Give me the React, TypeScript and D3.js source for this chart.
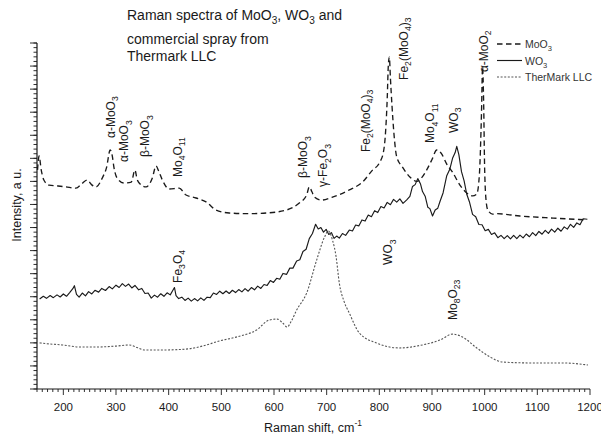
import React from "react";
import * as d3 from "d3";

type P = [number, number];

// ---- data (Raman shift cm-1, intensity a.u.) ----
const moo3Data: P[] = [
  [151, 9.5], [154, 10.1], [158, 9.5], [163, 9.06], [173, 8.84], [190, 8.8], [205, 8.76], [224, 8.71],
  [235, 8.9], [245, 9.06], [254, 8.85], [262, 8.76], [274, 9.15], [282, 9.6], [289, 10.36], [293, 10.1],
  [296, 9.62], [302, 9.15], [315, 8.93], [329, 8.97], [336, 9.49], [340, 9.1], [344, 8.93], [357, 8.76],
  [369, 9.15], [376, 9.67], [381, 9.45], [388, 9.06], [401, 8.67], [420, 8.71], [433, 8.41], [452, 8.28],
  [471, 8.11], [490, 7.76], [515, 7.63], [553, 7.6], [586, 7.63], [624, 7.76], [648, 8.06], [662, 8.41],
  [667, 8.76], [672, 8.55], [677, 8.32], [690, 8.19], [711, 8.32], [743, 8.63], [768, 8.97], [787, 9.49],
  [800, 9.8], [808, 10.3], [812, 11.2], [815, 12.6], [817, 14.0], [819, 14.39], [821, 13.5], [824, 12.3],
  [828, 11.0], [833, 10.06], [844, 9.62], [858, 9.19], [871, 9.0], [880, 9.15], [890, 9.5], [900, 9.95],
  [909, 10.36], [918, 10.2], [928, 9.75], [939, 9.4], [953, 8.84], [966, 8.5], [977, 8.37], [985, 8.45],
  [990, 9.3], [994, 12.0], [996, 13.96], [998, 12.5], [1000, 9.5], [1003, 8.1], [1006, 7.76], [1015, 7.58],
  [1023, 7.6], [1067, 7.5], [1130, 7.41], [1194, 7.33],
];

const wo3Data: P[] = [
  [155, 3.9], [162, 4.02], [168, 3.93], [175, 4.05], [181, 3.96], [188, 4.08], [194, 3.99], [200, 4.12],
  [206, 4.02], [212, 4.18], [218, 4.35], [221, 4.48], [225, 4.1], [230, 3.98], [236, 4.16], [242, 4.04],
  [248, 4.22], [254, 4.12], [260, 4.28], [267, 4.2], [273, 4.36], [280, 4.27], [287, 4.44], [293, 4.34],
  [300, 4.5], [306, 4.4], [312, 4.57], [318, 4.45], [324, 4.55], [330, 4.38], [336, 4.49], [343, 4.3],
  [349, 4.36], [355, 4.14], [361, 4.16], [367, 3.94], [373, 4.07], [379, 3.98], [385, 4.13], [391, 4.02],
  [397, 4.17], [403, 4.08], [408, 4.28], [411, 4.4], [414, 4.05], [419, 3.92], [425, 3.98], [431, 3.84],
  [437, 3.94], [443, 3.81], [449, 3.92], [455, 3.82], [461, 3.95], [467, 3.84], [473, 3.98], [479, 3.96],
  [485, 4.16], [491, 4.1], [497, 4.24], [503, 4.13], [509, 4.25], [515, 4.14], [521, 4.28], [527, 4.18],
  [533, 4.31], [539, 4.21], [545, 4.35], [551, 4.24], [557, 4.4], [563, 4.3], [569, 4.46], [575, 4.36],
  [581, 4.53], [587, 4.49], [593, 4.7], [599, 4.62], [605, 4.8], [611, 4.76], [617, 5.01], [624, 4.97],
  [630, 5.24], [636, 5.24], [643, 5.55], [649, 5.6], [655, 5.96], [661, 6.06], [667, 6.52], [673, 6.74],
  [679, 7.14], [684, 6.94], [689, 7.0], [694, 6.8], [699, 6.92], [704, 6.7], [709, 6.78], [714, 6.53],
  [719, 6.63], [724, 6.54], [730, 6.74], [736, 6.66], [743, 6.89], [749, 6.85], [755, 7.11], [761, 7.07],
  [767, 7.33], [773, 7.28], [779, 7.54], [785, 7.47], [791, 7.73], [797, 7.65], [803, 7.91], [809, 7.85],
  [815, 8.09], [821, 7.99], [827, 8.22], [833, 8.1], [839, 8.24], [845, 8.05], [852, 8.2], [858, 8.35],
  [863, 8.78], [868, 8.86], [873, 9.12], [878, 8.9], [882, 8.56], [887, 8.36], [892, 7.88], [896, 7.82],
  [901, 7.5], [906, 7.76], [911, 7.84], [915, 8.12], [921, 8.5], [928, 9.25], [934, 9.54], [939, 10.0],
  [944, 10.25], [947, 10.52], [951, 10.16], [956, 9.42], [961, 9.02], [966, 8.44], [971, 8.12], [977, 7.57],
  [983, 7.47], [989, 7.13], [995, 7.12], [1001, 6.86], [1007, 6.92], [1013, 6.7], [1019, 6.77], [1025, 6.56],
  [1031, 6.66], [1037, 6.52], [1043, 6.65], [1049, 6.51], [1055, 6.66], [1061, 6.52], [1067, 6.67], [1073, 6.55],
  [1079, 6.72], [1085, 6.6], [1091, 6.78], [1097, 6.65], [1103, 6.83], [1109, 6.71], [1115, 6.88], [1121, 6.75],
  [1127, 6.93], [1133, 6.8], [1139, 6.97], [1145, 6.84], [1151, 7.03], [1157, 6.93], [1163, 7.14], [1169, 7.01],
  [1175, 7.2], [1181, 7.12], [1187, 7.38], [1195, 7.36],
];

const thermarkData: P[] = [
  [155, 2.0], [175, 1.95], [198, 1.91], [215, 1.86], [230, 1.82], [262, 1.82], [300, 1.86], [325, 1.91],
  [340, 1.8], [354, 1.69], [388, 1.69], [433, 1.73], [464, 1.86], [496, 2.08], [528, 2.25], [567, 2.56],
  [591, 2.99], [606, 3.03], [617, 2.85], [625, 2.69], [633, 2.95], [643, 3.42], [662, 4.16], [681, 5.59],
  [696, 6.59], [703, 6.85], [711, 6.46], [718, 5.72], [724, 4.59], [733, 3.8], [743, 3.29], [762, 2.43],
  [795, 1.99], [838, 1.78], [882, 1.91], [915, 2.12], [939, 2.38], [958, 2.25], [985, 1.78], [1010, 1.39],
  [1034, 1.17], [1086, 1.13], [1149, 1.13], [1196, 1.04],
];

const xTickValues = [200, 300, 400, 500, 600, 700, 800, 900, 1000, 1100, 1200];

const annotationTexts = [
  "α-MoO_3", "α-MoO_3", "β-MoO_3", "Mo_4O_11", "β-MoO_3", "γ-Fe_2O_3", "Fe_2(MoO_4)_3",
  "Fe_2(MoO_4)_3", "Mo_4O_11", "WO_3", "α-MoO_2", "Fe_3O_4", "WO_3", "Mo_8O_23",
];
const annotationShift = [289, 315, 355, 416, 655, 693, 773, 845, 896, 940, 997, 416, 816, 938];
const annotationLevel = [10.88, 9.84, 10.06, 9.19, 9.15, 8.76, 10.27, 13.4, 10.66, 11.1, 13.74, 4.6, 5.38, 2.99];

const titleLines = ["Raman spectra of MoO_3, WO_3 and", "commercial spray from", "Thermark LLC"];
const legendNames = ["MoO_3", "WO_3", "TherMark LLC"];

const FONT = "'Liberation Sans', Arial, Helvetica, sans-serif";

function rich(s: string, fs: number) {
  const parts = s.split(/(_\d+)/).filter((p) => p.length > 0);
  let shifted = false;
  const sh = fs * 0.3;
  return parts.map((p, i) => {
    if (p.startsWith("_")) {
      const el = (
        <tspan key={i} fontSize={fs * 0.72} dy={shifted ? 0 : sh}>
          {p.slice(1)}
        </tspan>
      );
      shifted = true;
      return el;
    }
    const el = (
      <tspan key={i} dy={shifted ? -sh : 0}>
        {p}
      </tspan>
    );
    shifted = false;
    return el;
  });
}

export default function App() {
  const x = d3.scaleLinear().domain([150, 1200]).range([37, 590]);
  const y = d3.scaleLinear().domain([0, 15]).range([389, 43]);

  const smooth = d3.line<P>().x((d) => x(d[0])).y((d) => y(d[1])).curve(d3.curveMonotoneX);
  const raw = d3.line<P>().x((d) => x(d[0])).y((d) => y(d[1]));

  const xMinor = d3.range(150, 1200.001, 10);
  const yMinor = d3.range(0, 15.001, 0.2);
  const yMajor = d3.range(0, 15.001, 1);

  const ink = "#1a1a1a";
  const series = [
    { dash: "5.5,3.5", width: 1.35, color: ink },
    { dash: "none", width: 1.15, color: ink },
    { dash: "2,1.6", width: 1.1, color: "#555" },
  ];

  return (
    <svg
      width={601}
      height={441}
      style={{ position: "absolute", left: 0, top: 0, display: "block" }}
      fontFamily={FONT}
    >
      <rect width={601} height={441} fill="#fff" />

      {/* title */}
      {titleLines.map((t, i) => (
        <text key={i} x={127} y={[20, 44, 61][i]} fontSize={14} fill={ink}>
          {rich(t, 14)}
        </text>
      ))}

      {/* axes */}
      <line x1={x(150)} x2={x(1200)} y1={y(0)} y2={y(0)} stroke={ink} strokeWidth={1.2} />
      <line x1={x(150)} x2={x(150)} y1={y(0)} y2={y(15)} stroke={ink} strokeWidth={1.2} />
      {xMinor.map((v, i) => {
        const major = Math.abs(v % 100) < 1e-6;
        return (
          <line
            key={"xm" + i}
            x1={x(v)}
            x2={x(v)}
            y1={y(0)}
            y2={y(0) + (major ? 6 : 3)}
            stroke={ink}
            strokeWidth={0.9}
          />
        );
      })}
      {yMinor.map((v, i) => (
        <line key={"ym" + i} x1={x(150) - 3.5} x2={x(150)} y1={y(v)} y2={y(v)} stroke={ink} strokeWidth={0.9} />
      ))}
      {yMajor.map((v, i) => (
        <line key={"yM" + i} x1={x(150) - 7} x2={x(150)} y1={y(v)} y2={y(v)} stroke={ink} strokeWidth={0.9} />
      ))}
      {xTickValues.map((v) => (
        <text key={"xt" + v} x={x(v)} y={411} fontSize={11.5} textAnchor="middle" fill={ink}>
          {v}
        </text>
      ))}
      <text x={313} y={432} fontSize={12.5} textAnchor="middle" fill={ink}>
        Raman shift, cm
        <tspan fontSize={8.5} dy={-6}>
          -1
        </tspan>
      </text>
      <text transform={`translate(21,205) rotate(-90)`} fontSize={12.5} textAnchor="middle" fill={ink}>
        Intensity, a u.
      </text>

      {/* series */}
      <path d={smooth(moo3Data) || ""} fill="none" stroke={series[0].color} strokeWidth={series[0].width} strokeDasharray={series[0].dash} />
      <path d={raw(wo3Data) || ""} fill="none" stroke={series[1].color} strokeWidth={series[1].width} strokeLinejoin="round" />
      <path d={smooth(thermarkData) || ""} fill="none" stroke={series[2].color} strokeWidth={series[2].width} strokeDasharray={series[2].dash} />

      {/* annotations */}
      {annotationTexts.map((t, i) => (
        <text
          key={"an" + i}
          transform={`translate(${x(annotationShift[i]) + 4.5},${y(annotationLevel[i])}) rotate(-90)`}
          fontSize={12}
          fill={ink}
        >
          {rich(t, 12)}
        </text>
      ))}

      {/* legend */}
      {legendNames.map((n, i) => {
        const ly = 44 + i * 16.5;
        return (
          <g key={"lg" + i}>
            <line
              x1={497}
              x2={522}
              y1={ly}
              y2={ly}
              stroke={series[i].color}
              strokeWidth={series[i].width}
              strokeDasharray={series[i].dash}
            />
            <text x={525} y={ly + 4} fontSize={10.5} fill="#333">
              {rich(n, 10.5)}
            </text>
          </g>
        );
      })}
    </svg>
  );
}
